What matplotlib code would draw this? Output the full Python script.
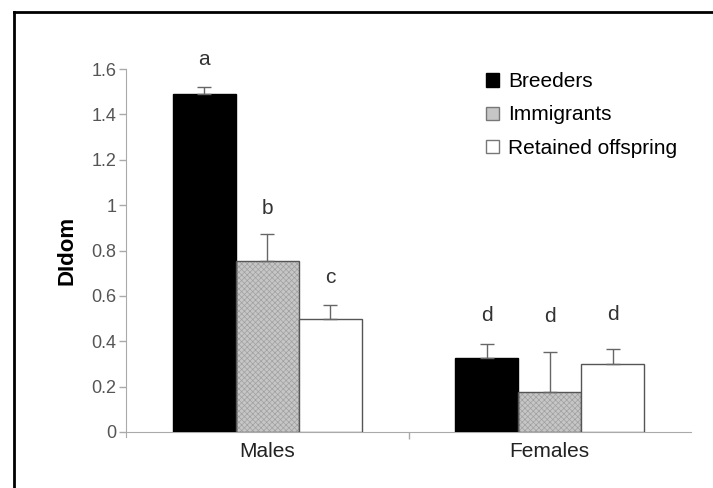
import matplotlib
matplotlib.use("Agg")
import matplotlib.pyplot as plt
import numpy as np
from matplotlib.lines import Line2D
from matplotlib.patches import Patch

plt.rcParams['font.family'] = ['Liberation Sans', 'DejaVu Sans']
plt.rcParams['hatch.linewidth'] = 0.5

groups = ["Males", "Females"]
series = ["Breeders", "Immigrants", "Retained offspring"]
means = {
    "Breeders": [1.49, 0.326],
    "Immigrants": [0.754, 0.178],
    "Retained offspring": [0.50, 0.298],
}
err_up = {
    "Breeders": [0.03, 0.064],
    "Immigrants": [0.119, 0.173],
    "Retained offspring": [0.06, 0.066],
}
letters = {
    "Breeders": ["a", "d"],
    "Immigrants": ["b", "d"],
    "Retained offspring": ["c", "d"],
}
letter_y = {
    "Breeders": [1.617, 0.488],
    "Immigrants": [0.961, 0.486],
    "Retained offspring": [0.657, 0.494],
}
yticks = [0, 0.2, 0.4, 0.6, 0.8, 1.0, 1.2, 1.4, 1.6]
ytick_labels = ["0", "0.2", "0.4", "0.6", "0.8", "1", "1.2", "1.4", "1.6"]

fill = {"Breeders": "black", "Immigrants": "#c6c6c6", "Retained offspring": "white"}

W, H = 713, 488
fig = plt.figure(figsize=(W / 100, H / 100), dpi=100)
ax = fig.add_axes([126 / W, 1 - 432 / H, (691 - 126) / W, (432 - 69) / H])

x = np.arange(len(groups))
bw = 0.223
offsets = [-bw, 0, bw]
for s, off in zip(series, offsets):
    xs = x + off
    if s == "Immigrants":
        ax.bar(xs, means[s], bw, color=fill[s], edgecolor="#a0a0a0", hatch="xxxxxx",
               linewidth=0, zorder=2)
        ax.bar(xs, means[s], bw, facecolor="none", edgecolor="#555555", linewidth=1.0, zorder=3)
    else:
        ax.bar(xs, means[s], bw, color=fill[s], edgecolor="#555555" if s != "Breeders" else "black",
               linewidth=1.0, zorder=3)
    ax.errorbar(xs, means[s], yerr=[np.zeros(len(xs)), err_up[s]], fmt="none",
                ecolor="#666666", elinewidth=1.0, capsize=5, capthick=1.0, zorder=4)
    for xi, lt, ly in zip(xs, letters[s], letter_y[s]):
        ax.text(xi, ly, lt, ha="center", va="baseline", fontsize=15, color="#333333",
                clip_on=False)

ax.set_xlim(-0.5, 1.5)
ax.set_ylim(0, 1.6)
ax.set_yticks(yticks)
ax.set_yticklabels(ytick_labels)
ax.set_xticks(x)
ax.set_xticklabels(groups)
ax.set_xticks([0.5], minor=True)
ax.tick_params(axis="x", which="major", length=0, pad=7, labelsize=15, labelcolor="#222222")
ax.tick_params(axis="x", which="minor", length=5, color="#aaaaaa", width=1)
ax.tick_params(axis="y", length=5, color="#aaaaaa", width=1, labelsize=13,
               labelcolor="#555555", pad=2)

for sp in ["top", "right"]:
    ax.spines[sp].set_visible(False)
ax.spines["left"].set_color("#aaaaaa")
ax.spines["bottom"].set_color("#aaaaaa")
ax.spines["left"].set_bounds(-0.02, 1.6)

ax.set_ylabel("DIdom", fontsize=16, fontweight="bold", labelpad=10)

handles = [Patch(facecolor="black", edgecolor="black"),
           Patch(facecolor="#c6c6c6", edgecolor="#777777"),
           Patch(facecolor="white", edgecolor="#777777")]
leg = ax.legend(handles, series, loc="upper left",
                bbox_to_anchor=((478 - 126) / (691 - 126), 1 - (64 - 69) / (432 - 69)),
                frameon=False, fontsize=15, handlelength=0.6, handleheight=0.6,
                handletextpad=0.45, labelspacing=0.68, borderaxespad=0)

# outer frame (left and top edges)
fig.add_artist(Line2D([14 / W, 14 / W], [0, 1 - 12 / H], color="black", lw=2,
                      transform=fig.transFigure))
fig.add_artist(Line2D([14 / W, 1], [1 - 12 / H, 1 - 12 / H], color="black", lw=2,
                      transform=fig.transFigure))

fig.savefig("out.png", dpi=100)
